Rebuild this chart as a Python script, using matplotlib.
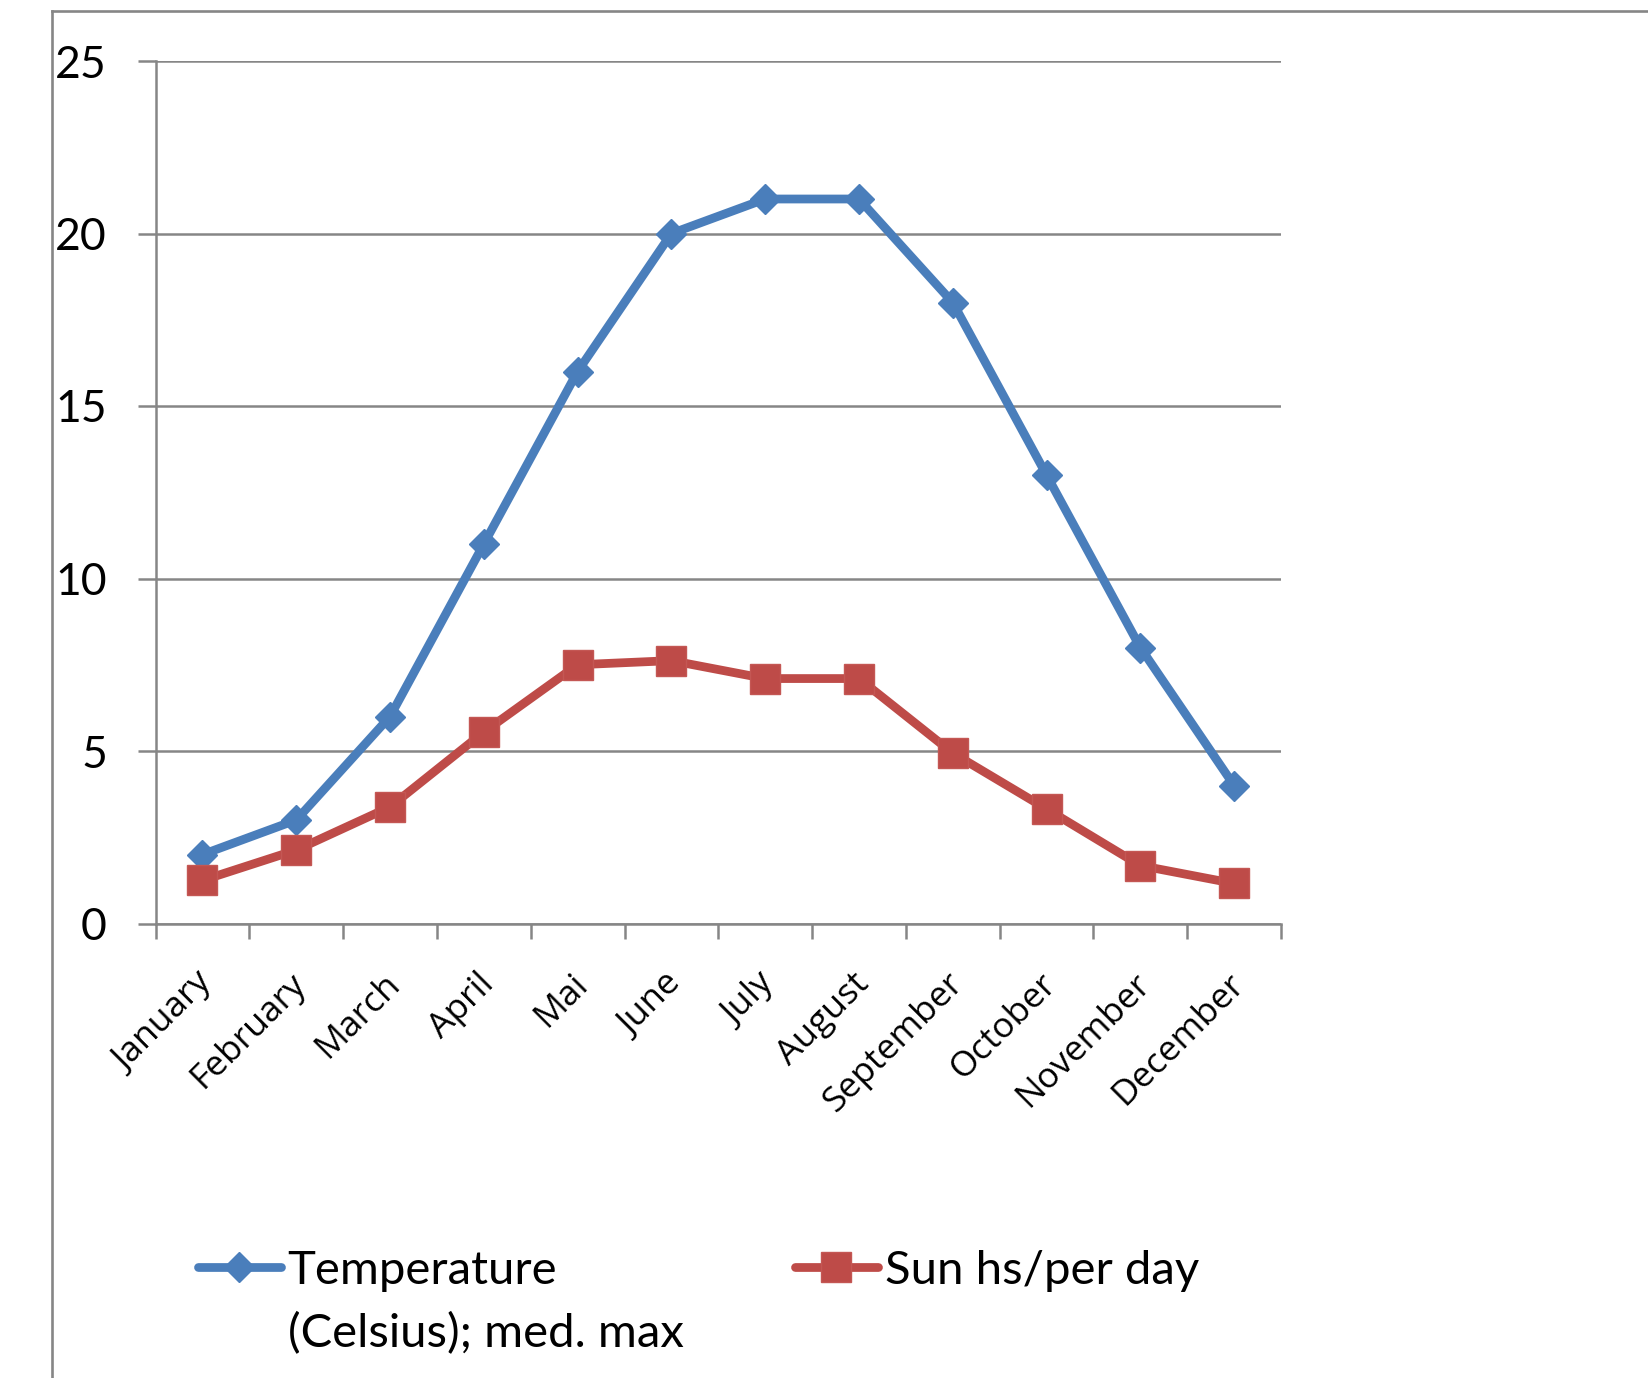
import numpy as np
import matplotlib
matplotlib.use("Agg")
import matplotlib.pyplot as plt
from matplotlib.lines import Line2D
from matplotlib.transforms import ScaledTranslation

months = ["January", "February", "March", "April", "Mai", "June", "July",
          "August", "September", "October", "November", "December"]
temperature = [2, 3, 6, 11, 16, 20, 21, 21, 18, 13, 8, 4]
sun_hours = [1.25, 2.13, 3.38, 5.55, 7.5, 7.62, 7.1, 7.1, 4.94, 3.32, 1.68, 1.16]
yticks = [0, 5, 10, 15, 20, 25]
label_temp_lines = ["Temperature", "(Celsius); med. max"]
label_sun = "Sun hs/per day"

BLUE = "#4A7EBB"
RED = "#BE4B48"
GRAY = "#868686"

W, H = 1649, 1378
fig = plt.figure(figsize=(W / 100, H / 100), dpi=100)
fig.patch.set_facecolor("white")

# outer chart-area border (left and top visible)
fig.add_artist(Line2D([52 / W, 52 / W], [0, 1 - 11 / H], color=GRAY, lw=1.9, transform=fig.transFigure))
fig.add_artist(Line2D([52 / W, 1.0], [1 - 11 / H, 1 - 11 / H], color=GRAY, lw=1.9, transform=fig.transFigure))

left, right, top, bottom = 155.6, 1281, 61, 923.5
ax = fig.add_axes([left / W, 1 - bottom / H, (right - left) / W, (bottom - top) / H])

x = np.arange(len(months)) + 0.5
ax.plot(x, temperature, color=BLUE, lw=6.3, marker="D", ms=15, mfc=BLUE, mec=BLUE,
        solid_joinstyle="round", zorder=3)
ax.plot(x, sun_hours, color=RED, lw=6.3, marker="s", ms=21, mfc=RED, mec="#C45754",
        mew=1, solid_joinstyle="round", zorder=4)

ax.set_xlim(0, len(months))
ax.set_ylim(0, 25)
ax.set_yticks(yticks)
ax.set_yticklabels([str(v) for v in yticks], fontfamily="Lato", fontsize=32)
ax.tick_params(axis="y", direction="out", length=13, width=1.8, color=GRAY, pad=22)

ax.set_xticks(x)
ax.set_xticklabels(months, fontfamily="Open Sans", fontsize=25.5, rotation=45,
                   ha="right", va="top", rotation_mode="default")
ax.tick_params(axis="x", which="major", length=0, pad=31)
shift = ScaledTranslation(17 / 100, 0, fig.dpi_scale_trans)
for lbl in ax.get_xticklabels():
    lbl.set_transform(lbl.get_transform() + shift)
ax.set_xticks(np.arange(len(months) + 1), minor=True)
ax.tick_params(axis="x", which="minor", direction="out", length=11, width=1.8, color=GRAY)

ax.yaxis.grid(True, color=GRAY, lw=1.8)
ax.set_axisbelow(True)
for s in ["top", "right"]:
    ax.spines[s].set_visible(False)
for s in ["left", "bottom"]:
    ax.spines[s].set_color(GRAY)
    ax.spines[s].set_linewidth(1.8)

h1 = Line2D([], [], color=BLUE, lw=6.3, marker="D", ms=15, mfc=BLUE, mec=BLUE, solid_capstyle="round")
h_blank = Line2D([], [], color="none", lw=0)
h2 = Line2D([], [], color=RED, lw=6.3, marker="s", ms=21, mfc=RED, mec="#C45754", solid_capstyle="round")
leg_kw = dict(frameon=False, handlelength=1.75, handletextpad=0.15, borderpad=0, borderaxespad=0,
              numpoints=1, prop={"family": "Lato", "size": 34}, loc="upper left", labelspacing=0.42)
leg1 = fig.legend([h1, h_blank], label_temp_lines, bbox_to_anchor=(198 / W, 1 - 1250 / H), **leg_kw)
leg2 = fig.legend([h2], [label_sun], bbox_to_anchor=(795 / W, 1 - 1250 / H), **leg_kw)

fig.savefig("out.png", dpi=100, facecolor="white")
